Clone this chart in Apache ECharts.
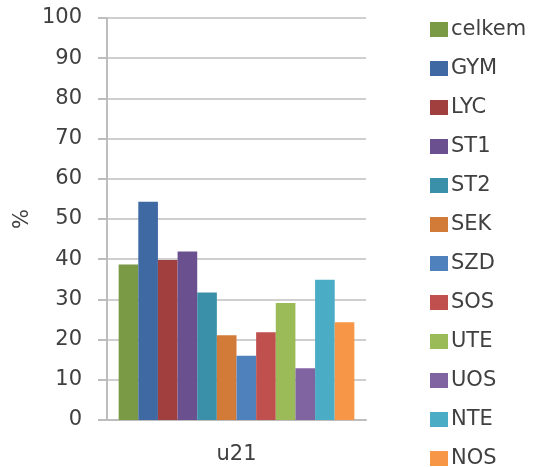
<!DOCTYPE html>
<html>
<head>
<meta charset="utf-8">
<script src="https://cdn.jsdelivr.net/npm/echarts@6/dist/echarts.min.js"></script>
<style>
  html, body { margin: 0; padding: 0; background: #fff; }
  #chart { width: 533px; height: 467px; }
</style>
</head>
<body>
<div id="chart"></div>
<script>
const categories = ['u21'];
const seriesNames = ['celkem', 'GYM', 'LYC', 'ST1', 'ST2', 'SEK', 'SZD', 'SOS', 'UTE', 'UOS', 'NTE', 'NOS'];
const seriesValues = [38.7, 54.3, 39.8, 41.9, 31.7, 21.1, 16.0, 21.8, 29.1, 12.9, 34.9, 24.3];
const seriesColors = ['#7a9a45', '#3f69a3', '#a03f3d', '#6b5090', '#3a90a8', '#d27b38',
  '#4f81bd', '#c0504d', '#9bbb59', '#8064a2', '#4bacc6', '#f79646'];
const yTicks = [0, 10, 20, 30, 40, 50, 60, 70, 80, 90, 100];

const fontFamily = 'DejaVu Sans';
const textColor = '#404040';

const chart = echarts.init(document.getElementById('chart'));

const series = seriesNames.map((name, i) => ({
  name: name,
  type: 'bar',
  data: [seriesValues[i]],
  barGap: '0%',
  barCategoryGap: '9%',
  itemStyle: { color: seriesColors[i] },
}));

const option = {
  animation: false,
  grid: { left: 107, right: 167, top: 18, bottom: 47 },
  legend: {
    orient: 'vertical',
    left: 430,
    top: 19,
    height: 600,
    padding: 0,
    itemWidth: 18,
    itemHeight: 15,
    itemGap: 18,
    icon: 'rect',
    textStyle: { fontFamily: fontFamily, fontSize: 21, color: textColor, padding: [0, 0, 0, -2] },
    data: seriesNames,
  },
  xAxis: {
    type: 'category',
    data: categories,
    axisLine: { lineStyle: { color: '#bdbdbd', width: 2 } },
    axisTick: { show: false },
    axisLabel: { fontFamily: fontFamily, fontSize: 21, color: textColor, margin: 24 },
  },
  yAxis: {
    type: 'value',
    min: yTicks[0],
    max: yTicks[yTicks.length - 1],
    interval: 10,
    name: '%',
    nameLocation: 'middle',
    nameGap: 74,
    nameRotate: 90,
    nameTextStyle: { fontFamily: fontFamily, fontSize: 21, color: textColor },
    axisLine: { show: true, lineStyle: { color: '#bdbdbd', width: 2 } },
    axisTick: { show: true, length: 9, lineStyle: { color: '#bdbdbd', width: 2 } },
    axisLabel: { fontFamily: fontFamily, fontSize: 21, color: textColor, margin: 25 },
    splitLine: { lineStyle: { color: '#cfcfcf', width: 2 } },
  },
  series: series,
};

chart.setOption(option);
</script>
</body>
</html>
